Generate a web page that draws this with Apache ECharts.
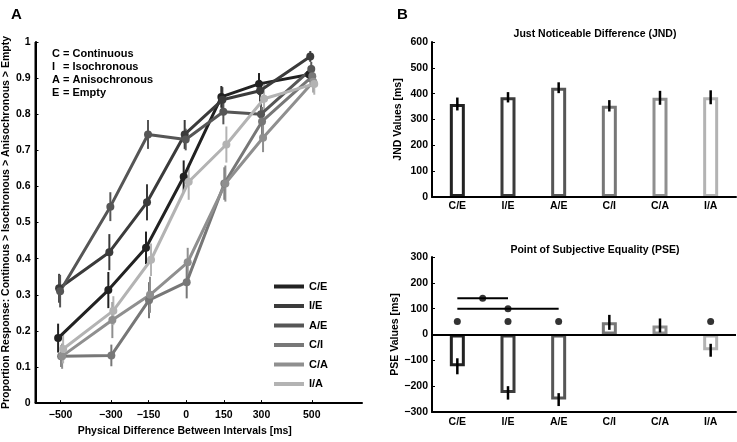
<!DOCTYPE html>
<html>
<head>
<meta charset="utf-8">
<title>JND / PSE</title>
<script src="https://cdn.jsdelivr.net/npm/echarts@6/dist/echarts.min.js"></script>
<style>
  html, body { margin: 0; padding: 0; background: #fff; }
  #main { width: 737px; height: 442px; }
</style>
</head>
<body>
<div id="main"></div>
<script type="text/javascript">
// ---- data ----
var xTicks = [-500, -300, -150, 0, 150, 300, 500];
var pairNames = ['C/E', 'I/E', 'A/E', 'C/I', 'C/A', 'I/A'];

// panel A: proportion of responses per condition
var propCE = [0.18, 0.313, 0.43, 0.627, 0.848, 0.884, 0.91];
var propIE = [0.318, 0.418, 0.556, 0.744, 0.84, 0.865, 0.96];
var propAE = [0.31, 0.544, 0.744, 0.73, 0.807, 0.80, 0.925];
var propCI = [0.13, 0.132, 0.285, 0.335, 0.608, 0.78, 0.905];
var propCA = [0.13, 0.23, 0.30, 0.39, 0.608, 0.735, 0.89];
var propIA = [0.15, 0.256, 0.397, 0.613, 0.716, 0.843, 0.884];

var errCE = [0.04, 0.05, 0.045, 0.045, 0.03, 0.03, 0.02];
var errIE = [0.04, 0.05, 0.05, 0.04, 0.035, 0.03, 0.015];
var errAE = [0.045, 0.04, 0.04, 0.03, 0.035, 0.03, 0.02];
var errCI = [0.03, 0.03, 0.05, 0.045, 0.045, 0.04, 0.03];
var errCA = [0.035, 0.05, 0.05, 0.04, 0.05, 0.04, 0.03];
var errIA = [0.04, 0.04, 0.045, 0.05, 0.05, 0.04, 0.03];

// panel B
var jndVals = [360, 386, 423, 353, 384, 386];
var jndErr = [25, 20, 21, 22, 27, 27];
var pseVals = [-123, -226, -252, 47, 35, -61];
var pseErr = [31, 26, 25, 29, 27, 25];

// significance marks in the PSE plot: [category index, value]
var sigDots = [[0, 50], [1, 50], [2, 50], [5, 50]];
// comparison lines: [from index, to index, level]
var sigLines = [[0, 1, 140], [0, 2, 100]];

// axis ranges
var rangeA = { x: [-600, 700], y: [0, 1] };
var rangeJND = { x: [-0.5, 5.5], y: [0, 600] };
var rangePSE = { x: [-0.5, 5.5], y: [-300, 300] };

// ---- styling ----
var greys = ['#222222', '#3b3b3b', '#565656', '#777777', '#8f8f8f', '#b3b3b3'];
var jitterMs = [-10, -6, -2, 2, 6, 10];   // small horizontal offsets between conditions
var FONT = 'Liberation Sans, Arial, sans-serif';
var lbl = { color: '#000', fontFamily: FONT, fontWeight: 'bold', fontSize: 10.5 };
var axLine = { show: true, onZero: false, lineStyle: { color: '#000', width: 2 } };

function minus(v) { return String(v).replace('-', '\u2212'); }

var props = [propCE, propIE, propAE, propCI, propCA, propIA];
var errs = [errCE, errIE, errAE, errCI, errCA, errIA];

var myChart = echarts.init(document.getElementById('main'));

function errorBar(color, width) {
	return function (params, api) {
		var a = api.coord([api.value(0), api.value(1)]);
		var b = api.coord([api.value(0), api.value(2)]);
		return {
			type: 'line',
			shape: { x1: a[0], y1: a[1], x2: b[0], y2: b[1] },
			style: { stroke: color, lineWidth: width }
		};
	};
}

// left + bottom frame of a plot, drawn from the axis ranges
function frameSeries(xi, yi, r) {
	return {
		type: 'custom', xAxisIndex: xi, yAxisIndex: yi, z: 100, clip: false, silent: true,
		encode: { x: [0, 1], y: [2, 3] },
		data: [[r.x[0], r.x[1], r.y[0], r.y[1]]],
		renderItem: function (params, api) {
			var bl = api.coord([api.value(0), api.value(2)]);
			var tl = api.coord([api.value(0), api.value(3)]);
			var br = api.coord([api.value(1), api.value(2)]);
			var st = { stroke: '#000', lineWidth: 2 };
			return {
				type: 'group', children: [
					{ type: 'line', shape: { x1: bl[0], y1: bl[1], x2: tl[0], y2: tl[1] }, style: st },
					{ type: 'line', shape: { x1: bl[0], y1: bl[1], x2: br[0], y2: br[1] }, style: st }
				]
			};
		}
	};
}

var series = [];

// panel A lines + error bars
pairNames.forEach(function (name, k) {
	var pts = [], bars = [];
	xTicks.forEach(function (x, i) {
		var xx = x + jitterMs[k];
		pts.push([xx, props[k][i]]);
		bars.push([xx, props[k][i] - errs[k][i], props[k][i] + errs[k][i]]);
	});
	series.push({
		type: 'custom', xAxisIndex: 0, yAxisIndex: 0, z: 3,
		renderItem: errorBar(greys[k], 2),
		encode: { x: 0, y: [1, 2] },
		data: bars, silent: true
	});
	series.push({
		name: name, type: 'line', xAxisIndex: 0, yAxisIndex: 0, z: 4,
		data: pts, symbol: 'circle', symbolSize: 8,
		lineStyle: { color: greys[k], width: 3 },
		itemStyle: { color: greys[k] }
	});
});
series.push(frameSeries(0, 0, rangeA));

// panel B top: JND
series.push({
	type: 'bar', xAxisIndex: 1, yAxisIndex: 1, barWidth: 15,
	data: jndVals.map(function (v, i) {
		return { value: v, itemStyle: { color: '#fff', borderColor: greys[i], borderWidth: 3 } };
	})
});
series.push({
	type: 'custom', xAxisIndex: 4, yAxisIndex: 1, z: 5,
	renderItem: errorBar('#000', 2.5),
	encode: { x: 0, y: [1, 2] },
	data: jndVals.map(function (v, i) { return [i, v - jndErr[i], v + jndErr[i]]; })
});
series.push(frameSeries(4, 1, rangeJND));

// panel B bottom: PSE
series.push({
	type: 'bar', xAxisIndex: 2, yAxisIndex: 2, barWidth: 15,
	data: pseVals.map(function (v, i) {
		return { value: v, itemStyle: { color: '#fff', borderColor: greys[i], borderWidth: 3 } };
	}),
	markLine: {
		silent: true, symbol: 'none', label: { show: false },
		lineStyle: { color: '#000', width: 2, type: 'solid' },
		data: [{ yAxis: 0 }]
	}
});
series.push({
	type: 'custom', xAxisIndex: 2, yAxisIndex: 2, z: 5,
	renderItem: errorBar('#000', 2.5),
	encode: { x: 0, y: [1, 2] },
	data: pseVals.map(function (v, i) { return [i, v - pseErr[i], v + pseErr[i]]; })
});
sigLines.forEach(function (s) {
	series.push({
		type: 'line', xAxisIndex: 3, yAxisIndex: 2, symbol: 'none', silent: true,
		lineStyle: { color: '#000', width: 2 },
		data: [[s[0], s[2]], [s[1], s[2]]]
	});
});
series.push({
	type: 'scatter', xAxisIndex: 3, yAxisIndex: 2, symbolSize: 7, z: 6,
	itemStyle: { color: '#000' },
	data: sigDots.concat(sigLines.map(function (s) { return [(s[0] + s[1]) / 2, s[2]]; }))
});
series.push(frameSeries(3, 2, rangePSE));

function yAxisStyle(extra) {
	return Object.assign({
		type: 'value',
		nameLocation: 'middle',
		nameTextStyle: { color: '#000', fontFamily: FONT, fontWeight: 'bold', fontSize: 10.5 },
		axisLine: axLine,
		axisTick: { show: true, inside: true, length: 3, lineStyle: { color: '#000' } },
		splitLine: { show: false }
	}, extra);
}

var option = {
	animation: false,
	textStyle: { fontFamily: FONT },
	grid: [
		{ left: 32, top: 42, width: 330, height: 370 },
		{ left: 432, top: 42, width: 304, height: 155 },
		{ left: 432, top: 257, width: 304, height: 155 }
	],
	title: [
		{ text: 'A', left: 6, top: 2, textStyle: { fontFamily: FONT, fontWeight: 'bold', fontSize: 15, color: '#000' } },
		{ text: 'B', left: 392, top: 2, textStyle: { fontFamily: FONT, fontWeight: 'bold', fontSize: 15, color: '#000' } },
		{ text: 'Just Noticeable Difference (JND)', left: 590, top: 24, textAlign: 'center',
		  textStyle: { fontFamily: FONT, fontWeight: 'bold', fontSize: 10.5, color: '#000' } },
		{ text: 'Point of Subjective Equality (PSE)', left: 590, top: 240, textAlign: 'center',
		  textStyle: { fontFamily: FONT, fontWeight: 'bold', fontSize: 10.5, color: '#000' } }
	],
	legend: {
		data: pairNames.map(function (n) { return { name: n, icon: 'rect' }; }),
		orient: 'vertical', left: 269, top: 276,
		itemWidth: 30, itemHeight: 4, itemGap: 8.5,
		textStyle: { color: '#000', fontFamily: FONT, fontWeight: 'bold', fontSize: 11 }
	},
	graphic: [
		{ type: 'group', left: 52, top: 47, children: [
			{ type: 'text', x: 0, y: 0, style: { text: 'C\nI\nA\nE', lineHeight: 13, font: 'bold 11px ' + FONT, fill: '#000' } },
			{ type: 'text', x: 11, y: 0, style: { text: '= Continuous\n= Isochronous\n= Anisochronous\n= Empty', lineHeight: 13, font: 'bold 11px ' + FONT, fill: '#000' } }
		] }
	],
	xAxis: [
		{
			type: 'value', gridIndex: 0, min: rangeA.x[0], max: rangeA.x[1],
			name: 'Physical Difference Between Intervals [ms]', nameLocation: 'middle', nameGap: 20,
			nameTextStyle: { color: '#000', fontFamily: FONT, fontWeight: 'bold', fontSize: 10.5, padding: [0, 28, 0, 0] },
			axisLine: axLine,
			axisTick: { show: true, inside: true, length: 3, customValues: xTicks, lineStyle: { color: '#000' } },
			axisLabel: Object.assign({ customValues: xTicks, margin: 7, formatter: minus }, lbl),
			splitLine: { show: false }
		},
		{
			type: 'category', gridIndex: 1, data: pairNames,
			axisLine: axLine,
			axisTick: { show: false },
			axisLabel: Object.assign({ margin: 4 }, lbl)
		},
		{
			type: 'category', gridIndex: 2, data: pairNames,
			axisLine: axLine,
			axisTick: { show: false },
			axisLabel: Object.assign({ margin: 5 }, lbl)
		},
		{ type: 'value', gridIndex: 2, min: rangePSE.x[0], max: rangePSE.x[1], show: false },
		{ type: 'value', gridIndex: 1, min: rangeJND.x[0], max: rangeJND.x[1], show: false }
	],
	yAxis: [
		yAxisStyle({
			gridIndex: 0, min: rangeA.y[0], max: rangeA.y[1], interval: 0.1,
			name: 'Proportion Response: Continous > Isochronous > Anisochronous > Empty',
			nameGap: 20,
			axisLabel: Object.assign({ margin: 5 }, lbl)
		}),
		yAxisStyle({
			gridIndex: 1, min: rangeJND.y[0], max: rangeJND.y[1], interval: 100,
			name: 'JND Values [ms]', nameGap: 28,
			axisLabel: Object.assign({ margin: 4 }, lbl)
		}),
		yAxisStyle({
			gridIndex: 2, min: rangePSE.y[0], max: rangePSE.y[1], interval: 100,
			name: 'PSE Values [ms]', nameGap: 28,
			axisLabel: Object.assign({ margin: 4, formatter: minus }, lbl)
		})
	],
	series: series
};

myChart.setOption(option);
</script>
</body>
</html>
